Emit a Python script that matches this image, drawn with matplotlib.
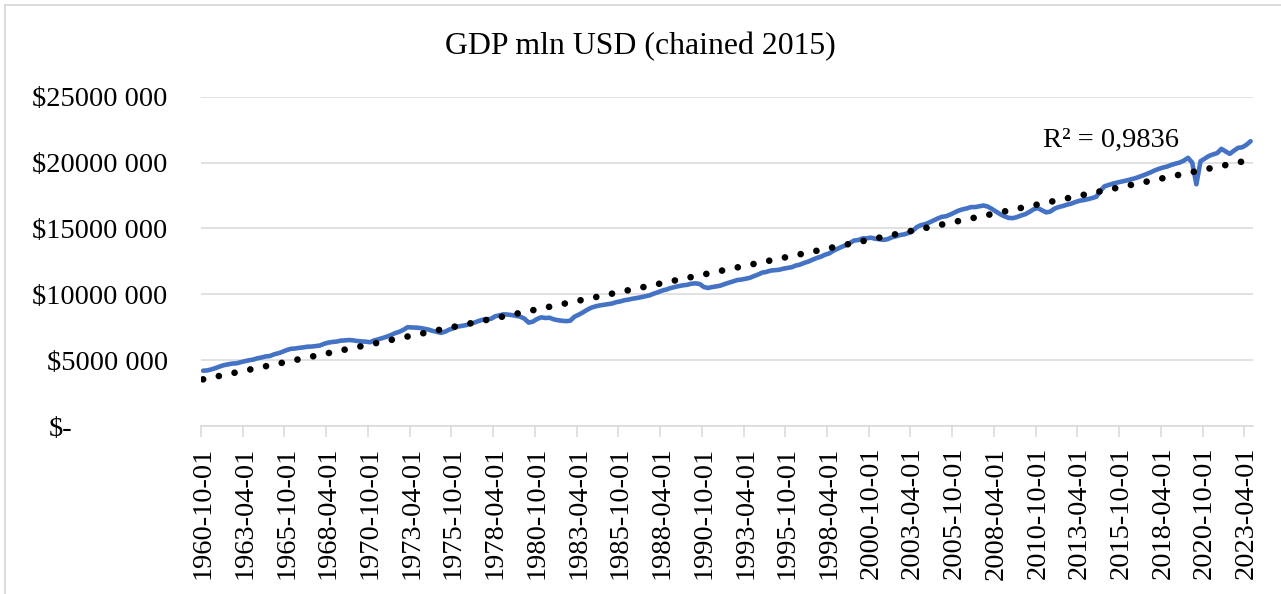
import matplotlib
matplotlib.use("Agg")
import matplotlib.pyplot as plt
import matplotlib.transforms as mtransforms
from matplotlib.lines import Line2D
import numpy as np
import pandas as pd

gdp_trln = [
    4.20,
    4.22, 4.30, 4.40, 4.52,      # 1961
    4.62, 4.68, 4.74, 4.76,
    4.84, 4.92, 4.99, 5.04,
    5.14, 5.20, 5.28, 5.31,
    5.44, 5.52, 5.63, 5.76,      # 1965
    5.86, 5.88, 5.93, 5.97,
    6.02, 6.03, 6.07, 6.11,
    6.24, 6.33, 6.38, 6.41,
    6.48, 6.50, 6.53, 6.50,
    6.45, 6.42, 6.40, 6.36,      # 1970
    6.50, 6.58, 6.68, 6.78,
    6.90, 7.05, 7.15, 7.30,
    7.50, 7.48, 7.47, 7.44,
    7.38, 7.32, 7.22, 7.15,
    7.07, 7.16, 7.32, 7.42,      # 1975
    7.55, 7.60, 7.66, 7.74,
    7.85, 7.97, 8.07, 8.10,
    8.14, 8.33, 8.40, 8.48,
    8.46, 8.42, 8.36, 8.30,
    8.15, 7.85, 7.92, 8.12,      # 1980
    8.25, 8.20, 8.22, 8.10,
    8.03, 7.99, 7.96, 8.00,
    8.30, 8.45, 8.62, 8.82,
    8.98, 9.08, 9.15, 9.20,
    9.25, 9.30, 9.40, 9.46,      # 1985
    9.55, 9.60, 9.67, 9.72,
    9.78, 9.85, 9.92, 10.05,
    10.15, 10.28, 10.36, 10.47,
    10.55, 10.62, 10.68, 10.72,
    10.80, 10.83, 10.78, 10.55,  # 1990
    10.48, 10.55, 10.60, 10.66,
    10.78, 10.88, 10.98, 11.08,
    11.12, 11.18, 11.25, 11.38,
    11.50, 11.65, 11.70, 11.80,
    11.83, 11.86, 11.94, 12.00,  # 1995
    12.05, 12.18, 12.25, 12.38,
    12.48, 12.62, 12.75, 12.85,
    13.00, 13.10, 13.30, 13.45,
    13.60, 13.72, 13.90, 14.08,
    14.12, 14.24, 14.25, 14.30,  # 2000
    14.22, 14.18, 14.13, 14.18,
    14.32, 14.40, 14.50, 14.55,
    14.65, 14.80, 15.10, 15.25,
    15.32, 15.45, 15.60, 15.75,
    15.88, 15.92, 16.05, 16.20,  # 2005
    16.35, 16.45, 16.52, 16.62,
    16.62, 16.68, 16.74, 16.66,
    16.48, 16.28, 16.08, 15.92,
    15.80, 15.78, 15.86, 15.98,
    16.08, 16.25, 16.45, 16.55,  # 2010
    16.38, 16.22, 16.28, 16.50,
    16.62, 16.70, 16.80, 16.88,
    17.00, 17.10, 17.15, 17.22,
    17.30, 17.40, 17.85, 18.20,
    18.30, 18.40, 18.48, 18.55,  # 2015
    18.62, 18.70, 18.78, 18.88,
    19.00, 19.12, 19.25, 19.40,
    19.52, 19.62, 19.70, 19.82,
    19.92, 20.00, 20.15, 20.36,
    20.00, 18.35, 20.10, 20.30,  # 2020
    20.50, 20.62, 20.72, 21.04,
    20.85, 20.66, 20.90, 21.12,
    21.16, 21.35, 21.62,
]
quarters = pd.date_range("1960-10-01", periods=len(gdp_trln), freq="QS")
quarter_labels = quarters.strftime("%Y-%m-%d").tolist()
y_ticks = [0, 5_000_000, 10_000_000, 15_000_000, 20_000_000, 25_000_000]
title = "GDP mln USD (chained 2015)"
r2_text = "R² = 0,9836"

gdp = np.array(gdp_trln) * 1_000_000
x = np.arange(len(gdp))

W, H = 1281, 594
fig = plt.figure(figsize=(W / 100, H / 100), dpi=100)
plt.rcParams["font.family"] = ["Liberation Serif", "DejaVu Serif"]
grey = "#D9D9D9"

ax = fig.add_axes([201 / W, 1 - 426 / H, (1252.7 - 201) / W, (426 - 96.7) / H])

# data line and linear trend (like Excel's trendline)
ax.plot(x, gdp, color="#4472C4", lw=3.3, solid_joinstyle="round",
        solid_capstyle="round", zorder=3)
k, b = np.polyfit(x, gdp, 1)
ax.plot(x, k * x + b, color="black", lw=4.8, linestyle=(0, (0.01, 2.4)),
        dash_capstyle="round", zorder=4)

ax.set_xlim(-0.5, len(gdp) - 0.5)
ax.set_ylim(0, 25_000_000)

# y axis
ax.set_yticks(y_ticks)
ax.set_yticklabels([f"${v // 1000} {v % 1000:03d}" if v else "" for v in y_ticks])
ax.tick_params(axis="y", length=0, pad=24, labelsize=20.5)
ax.yaxis.grid(True, color=grey, lw=1.1)
ax.set_axisbelow(True)
trans = mtransforms.blended_transform_factory(fig.transFigure, ax.transData)
ax.text(49 / W, 0, "$-", transform=trans, ha="left", va="center_baseline",
        fontsize=20.5)

# x axis: labels every 10 quarters, tick marks on category borders
ax.set_xticks(x[::10])
ax.set_xticklabels(quarter_labels[::10], rotation=90)
ax.set_xticks(np.arange(-0.5, len(gdp) - 1, 10), minor=True)
ax.tick_params(axis="x", which="major", length=0, pad=15, labelsize=20.5)
ax.tick_params(axis="x", which="minor", length=8, width=1.1, color=grey)

for side in ["top", "right", "left"]:
    ax.spines[side].set_visible(False)
ax.spines["bottom"].set_color(grey)
ax.spines["bottom"].set_linewidth(1.1)

fig.text(0.5, 1 - 54 / H, title, ha="center", va="baseline", fontsize=22.9)
ax.text(1043 / W, 1 - 146.5 / H, r2_text, transform=fig.transFigure,
        ha="left", va="baseline", fontsize=20.5)

# chart border (only left and top edges are inside the picture)
fig.add_artist(Line2D([4.5 / W, 4.5 / W], [0, 1 - 5 / H], color=grey, lw=1.3,
                      transform=fig.transFigure))
fig.add_artist(Line2D([4.5 / W, 1], [1 - 5 / H, 1 - 5 / H], color=grey, lw=1.3,
                      transform=fig.transFigure))

fig.savefig("out.png", dpi=100)
